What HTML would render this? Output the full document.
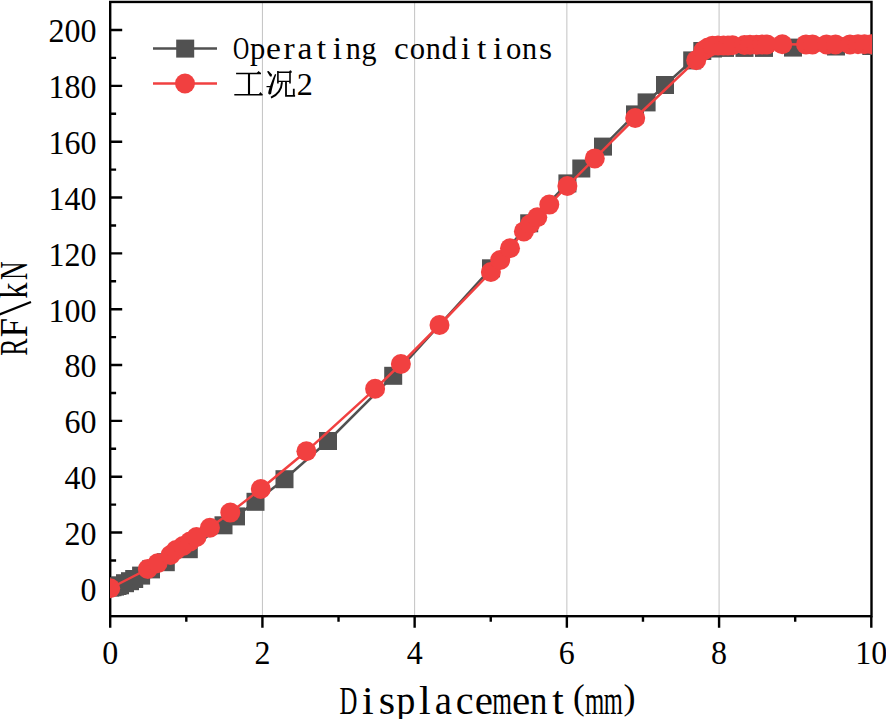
<!DOCTYPE html>
<html><head><meta charset="utf-8"><style>
html,body{margin:0;padding:0;background:#fff;width:886px;height:719px;overflow:hidden}
svg{display:block}
text{font-family:"Liberation Serif",serif;fill:#000}
</style></head><body>
<svg width="886" height="719" viewBox="0 0 886 719">
<defs><clipPath id="pc"><rect x="110" y="2" width="762" height="614.2"/></clipPath></defs>
<rect x="0" y="0" width="886" height="719" fill="#fff"/>

<line x1="262.42" y1="2" x2="262.42" y2="616" stroke="#c2c2c2" stroke-width="1"/>
<line x1="414.64" y1="2" x2="414.64" y2="616" stroke="#c2c2c2" stroke-width="1"/>
<line x1="566.86" y1="2" x2="566.86" y2="616" stroke="#c2c2c2" stroke-width="1"/>
<line x1="719.08" y1="2" x2="719.08" y2="616" stroke="#c2c2c2" stroke-width="1"/>
<rect x="110.2" y="1.95" width="761.3" height="614.25" fill="none" stroke="#000" stroke-width="2.4"/>
<path d="M110.2 588.40H122.20 M110.2 560.48H116.10 M110.2 532.56H122.20 M110.2 504.64H116.10 M110.2 476.72H122.20 M110.2 448.80H116.10 M110.2 420.88H122.20 M110.2 392.96H116.10 M110.2 365.04H122.20 M110.2 337.12H116.10 M110.2 309.20H122.20 M110.2 281.28H116.10 M110.2 253.36H122.20 M110.2 225.44H116.10 M110.2 197.52H122.20 M110.2 169.60H116.10 M110.2 141.68H122.20 M110.2 113.76H116.10 M110.2 85.84H122.20 M110.2 57.92H116.10 M110.2 30.00H122.20 M110.20 616.2V627.70 M186.31 616.2V621.80 M262.42 616.2V627.70 M338.53 616.2V621.80 M414.64 616.2V627.70 M490.75 616.2V621.80 M566.86 616.2V627.70 M642.97 616.2V621.80 M719.08 616.2V627.70 M795.19 616.2V621.80 M871.30 616.2V627.70" stroke="#000" stroke-width="2.4" fill="none"/>
<g clip-path="url(#pc)">
<polyline points="110.3,587.6 112.5,587.2 115.0,586.6 117.5,586.0 120.0,585.3 125.0,583.2 130.0,581.2 134.2,579.0 141.1,575.6 151.0,569.4 165.8,562.2 188.8,549.2 223.5,525.3 236.0,516.4 255.5,501.8 284.5,479.2 328.0,441.0 393.2,375.8 491.0,268.3 529.2,223.3 567.4,183.4 581.3,168.5 603.0,146.6 635.0,114.4 646.6,102.4 665.0,85.0 692.2,60.4 702.3,51.0 713.0,48.5 725.0,47.9 744.5,47.9 764.0,47.9 793.0,47.6 836.0,46.5 871.3,46.0" fill="none" stroke="#515151" stroke-width="2.5"/>
<rect x="101.3" y="578.6" width="18" height="18" fill="#515151"/>
<rect x="103.5" y="578.2" width="18" height="18" fill="#515151"/>
<rect x="106.0" y="577.6" width="18" height="18" fill="#515151"/>
<rect x="108.5" y="577.0" width="18" height="18" fill="#515151"/>
<rect x="111.0" y="576.3" width="18" height="18" fill="#515151"/>
<rect x="116.0" y="574.2" width="18" height="18" fill="#515151"/>
<rect x="121.0" y="572.2" width="18" height="18" fill="#515151"/>
<rect x="125.2" y="570.0" width="18" height="18" fill="#515151"/>
<rect x="132.1" y="566.6" width="18" height="18" fill="#515151"/>
<rect x="142.0" y="560.4" width="18" height="18" fill="#515151"/>
<rect x="156.8" y="553.2" width="18" height="18" fill="#515151"/>
<rect x="179.8" y="540.2" width="18" height="18" fill="#515151"/>
<rect x="214.5" y="516.3" width="18" height="18" fill="#515151"/>
<rect x="227.0" y="507.4" width="18" height="18" fill="#515151"/>
<rect x="246.5" y="492.8" width="18" height="18" fill="#515151"/>
<rect x="275.5" y="470.2" width="18" height="18" fill="#515151"/>
<rect x="319.0" y="432.0" width="18" height="18" fill="#515151"/>
<rect x="384.2" y="366.8" width="18" height="18" fill="#515151"/>
<rect x="482.0" y="259.3" width="18" height="18" fill="#515151"/>
<rect x="520.2" y="214.3" width="18" height="18" fill="#515151"/>
<rect x="558.4" y="174.4" width="18" height="18" fill="#515151"/>
<rect x="572.3" y="159.5" width="18" height="18" fill="#515151"/>
<rect x="594.0" y="137.6" width="18" height="18" fill="#515151"/>
<rect x="626.0" y="105.4" width="18" height="18" fill="#515151"/>
<rect x="637.6" y="93.4" width="18" height="18" fill="#515151"/>
<rect x="656.0" y="76.0" width="18" height="18" fill="#515151"/>
<rect x="683.2" y="51.4" width="18" height="18" fill="#515151"/>
<rect x="693.3" y="42.0" width="18" height="18" fill="#515151"/>
<rect x="704.0" y="39.5" width="18" height="18" fill="#515151"/>
<rect x="716.0" y="38.9" width="18" height="18" fill="#515151"/>
<rect x="735.5" y="38.9" width="18" height="18" fill="#515151"/>
<rect x="755.0" y="38.9" width="18" height="18" fill="#515151"/>
<rect x="784.0" y="38.6" width="18" height="18" fill="#515151"/>
<rect x="827.0" y="37.5" width="18" height="18" fill="#515151"/>
<rect x="862.3" y="37.0" width="18" height="18" fill="#515151"/>
<polyline points="110.2,588.2 147.8,569.0 157.6,563.2 170.5,555.0 176.0,550.0 183.0,546.0 190.0,541.5 196.5,537.0 209.9,527.7 230.3,512.6 260.8,489.0 306.4,451.3 375.1,388.8 400.9,364.0 439.5,325.0 490.9,272.0 500.2,260.0 510.0,248.3 523.9,231.4 530.0,224.2 537.3,217.3 549.3,204.6 567.4,186.0 594.8,158.4 635.2,118.0 696.2,60.2 703.5,50.5 708.0,47.5 712.5,45.8 718.0,45.4 723.5,45.4 728.0,45.4 732.5,45.3 744.5,45.0 750.0,44.8 756.5,44.7 762.0,44.6 767.0,44.5 782.3,44.3 806.0,44.4 812.5,44.4 826.5,44.4 835.5,44.4 850.0,44.4 858.0,44.3 864.5,44.3 871.3,44.3" fill="none" stroke="#F14040" stroke-width="2.5"/>
<circle cx="110.2" cy="588.2" r="10" fill="#F14040"/>
<circle cx="147.8" cy="569.0" r="10" fill="#F14040"/>
<circle cx="157.6" cy="563.2" r="10" fill="#F14040"/>
<circle cx="170.5" cy="555.0" r="10" fill="#F14040"/>
<circle cx="176.0" cy="550.0" r="10" fill="#F14040"/>
<circle cx="183.0" cy="546.0" r="10" fill="#F14040"/>
<circle cx="190.0" cy="541.5" r="10" fill="#F14040"/>
<circle cx="196.5" cy="537.0" r="10" fill="#F14040"/>
<circle cx="209.9" cy="527.7" r="10" fill="#F14040"/>
<circle cx="230.3" cy="512.6" r="10" fill="#F14040"/>
<circle cx="260.8" cy="489.0" r="10" fill="#F14040"/>
<circle cx="306.4" cy="451.3" r="10" fill="#F14040"/>
<circle cx="375.1" cy="388.8" r="10" fill="#F14040"/>
<circle cx="400.9" cy="364.0" r="10" fill="#F14040"/>
<circle cx="439.5" cy="325.0" r="10" fill="#F14040"/>
<circle cx="490.9" cy="272.0" r="10" fill="#F14040"/>
<circle cx="500.2" cy="260.0" r="10" fill="#F14040"/>
<circle cx="510.0" cy="248.3" r="10" fill="#F14040"/>
<circle cx="523.9" cy="231.4" r="10" fill="#F14040"/>
<circle cx="530.0" cy="224.2" r="10" fill="#F14040"/>
<circle cx="537.3" cy="217.3" r="10" fill="#F14040"/>
<circle cx="549.3" cy="204.6" r="10" fill="#F14040"/>
<circle cx="567.4" cy="186.0" r="10" fill="#F14040"/>
<circle cx="594.8" cy="158.4" r="10" fill="#F14040"/>
<circle cx="635.2" cy="118.0" r="10" fill="#F14040"/>
<circle cx="696.2" cy="60.2" r="10" fill="#F14040"/>
<circle cx="703.5" cy="50.5" r="10" fill="#F14040"/>
<circle cx="708.0" cy="47.5" r="10" fill="#F14040"/>
<circle cx="712.5" cy="45.8" r="10" fill="#F14040"/>
<circle cx="718.0" cy="45.4" r="10" fill="#F14040"/>
<circle cx="723.5" cy="45.4" r="10" fill="#F14040"/>
<circle cx="728.0" cy="45.4" r="10" fill="#F14040"/>
<circle cx="732.5" cy="45.3" r="10" fill="#F14040"/>
<circle cx="744.5" cy="45.0" r="10" fill="#F14040"/>
<circle cx="750.0" cy="44.8" r="10" fill="#F14040"/>
<circle cx="756.5" cy="44.7" r="10" fill="#F14040"/>
<circle cx="762.0" cy="44.6" r="10" fill="#F14040"/>
<circle cx="767.0" cy="44.5" r="10" fill="#F14040"/>
<circle cx="782.3" cy="44.3" r="10" fill="#F14040"/>
<circle cx="806.0" cy="44.4" r="10" fill="#F14040"/>
<circle cx="812.5" cy="44.4" r="10" fill="#F14040"/>
<circle cx="826.5" cy="44.4" r="10" fill="#F14040"/>
<circle cx="835.5" cy="44.4" r="10" fill="#F14040"/>
<circle cx="850.0" cy="44.4" r="10" fill="#F14040"/>
<circle cx="858.0" cy="44.3" r="10" fill="#F14040"/>
<circle cx="864.5" cy="44.3" r="10" fill="#F14040"/>
<circle cx="871.3" cy="44.3" r="10" fill="#F14040"/>
</g>
<text transform="translate(96.6,600.70) scale(0.955,1)" font-size="33.5" text-anchor="end">0</text>
<text transform="translate(96.6,544.86) scale(0.955,1)" font-size="33.5" text-anchor="end">20</text>
<text transform="translate(96.6,489.02) scale(0.955,1)" font-size="33.5" text-anchor="end">40</text>
<text transform="translate(96.6,433.18) scale(0.955,1)" font-size="33.5" text-anchor="end">60</text>
<text transform="translate(96.6,377.34) scale(0.955,1)" font-size="33.5" text-anchor="end">80</text>
<text transform="translate(96.6,321.50) scale(0.955,1)" font-size="33.5" text-anchor="end">100</text>
<text transform="translate(96.6,265.66) scale(0.955,1)" font-size="33.5" text-anchor="end">120</text>
<text transform="translate(96.6,209.82) scale(0.955,1)" font-size="33.5" text-anchor="end">140</text>
<text transform="translate(96.6,153.98) scale(0.955,1)" font-size="33.5" text-anchor="end">160</text>
<text transform="translate(96.6,98.14) scale(0.955,1)" font-size="33.5" text-anchor="end">180</text>
<text transform="translate(96.6,42.30) scale(0.955,1)" font-size="33.5" text-anchor="end">200</text>
<text transform="translate(110.20,663.7) scale(0.955,1)" font-size="33.5" text-anchor="middle">0</text>
<text transform="translate(262.42,663.7) scale(0.955,1)" font-size="33.5" text-anchor="middle">2</text>
<text transform="translate(414.64,663.7) scale(0.955,1)" font-size="33.5" text-anchor="middle">4</text>
<text transform="translate(566.86,663.7) scale(0.955,1)" font-size="33.5" text-anchor="middle">6</text>
<text transform="translate(719.08,663.7) scale(0.955,1)" font-size="33.5" text-anchor="middle">8</text>
<text transform="translate(871.30,663.7) scale(0.955,1)" font-size="33.5" text-anchor="middle">10</text>
<text font-size="40" transform="translate(348.40,714.00) scale(0.619,1)" x="-14.20" >D</text>
<text font-size="40" transform="translate(367.85,714.00) scale(1.050,1)" x="-5.60" >i</text>
<text font-size="40" transform="translate(387.15,714.00) scale(1.050,1)" x="-8.00" >s</text>
<text font-size="40" transform="translate(405.40,714.00) scale(0.957,1)" x="-9.60" >p</text>
<text font-size="40" transform="translate(424.75,714.00) scale(1.050,1)" x="-5.60" >l</text>
<text font-size="40" transform="translate(443.85,714.00) scale(0.970,1)" x="-9.40" >a</text>
<text font-size="40" transform="translate(464.70,714.00) scale(1.000,1)" x="-9.00" >c</text>
<text font-size="40" transform="translate(483.70,714.00) scale(1.026,1)" x="-8.80" >e</text>
<text font-size="40" transform="translate(502.30,714.00) scale(0.633,1)" x="-15.80" >m</text>
<text font-size="40" transform="translate(520.90,714.00) scale(1.026,1)" x="-8.80" >e</text>
<text font-size="40" transform="translate(538.85,714.00) scale(0.867,1)" x="-10.20" >n</text>
<text font-size="40" transform="translate(557.95,714.00) scale(1.027,1)" x="-5.60" >t</text>
<text font-size="36" transform="translate(579.25,709.00) scale(0.977,1)" x="-6.30" >(</text>
<text font-size="40" transform="translate(594.70,714.00) scale(0.620,1)" x="-15.80" >m</text>
<text font-size="40" transform="translate(613.40,714.00) scale(0.613,1)" x="-15.80" >m</text>
<text font-size="36" transform="translate(629.40,709.00) scale(1.004,1)" x="-5.76" >)</text>
<text font-size="39" transform="translate(27.00,346.80) rotate(-90) scale(0.663,1)" x="-13.46" >R</text>
<text font-size="39" transform="translate(27.00,328.00) rotate(-90) scale(0.882,1)" x="-10.53" >F</text>
<text font-size="39" transform="translate(27.00,290.50) rotate(-90) scale(0.827,1)" x="-9.95" >k</text>
<text font-size="39" transform="translate(27.00,270.85) rotate(-90) scale(0.660,1)" x="-14.04" >N</text>
<line x1="-4" y1="315.9" x2="31" y2="301.9" stroke="#000" stroke-width="2.2"/>
<line x1="153" y1="48.5" x2="217" y2="48.5" stroke="#515151" stroke-width="2.5"/>
<rect x="176.2" y="39.6" width="18" height="18" fill="#515151"/>
<line x1="153" y1="83.5" x2="217" y2="83.5" stroke="#F14040" stroke-width="2.5"/>
<circle cx="185" cy="83.5" r="10" fill="#F14040"/>
<text font-size="32" transform="translate(241.30,59.40) scale(0.702,1)" x="-11.68" >O</text>
<text font-size="32" transform="translate(257.32,59.40) scale(0.958,1)" x="-7.68" >p</text>
<text font-size="32" transform="translate(273.34,59.40) scale(1.050,1)" x="-7.04" >e</text>
<text font-size="32" transform="translate(289.36,59.40) scale(1.050,1)" x="-5.60" >r</text>
<text font-size="32" transform="translate(305.38,59.40) scale(1.050,1)" x="-7.52" >a</text>
<text font-size="32" transform="translate(321.40,59.40) scale(1.050,1)" x="-4.48" >t</text>
<text font-size="32" transform="translate(337.42,59.40) scale(1.050,1)" x="-4.48" >i</text>
<text font-size="32" transform="translate(353.44,59.40) scale(0.944,1)" x="-8.16" >n</text>
<text font-size="32" transform="translate(369.46,59.40) scale(0.938,1)" x="-8.48" >g</text>
<text font-size="32" transform="translate(401.50,59.40) scale(1.034,1)" x="-7.20" >c</text>
<text font-size="32" transform="translate(417.52,59.40) scale(0.959,1)" x="-8.00" >o</text>
<text font-size="32" transform="translate(433.54,59.40) scale(0.944,1)" x="-8.16" >n</text>
<text font-size="32" transform="translate(449.56,59.40) scale(0.951,1)" x="-8.32" >d</text>
<text font-size="32" transform="translate(465.58,59.40) scale(1.050,1)" x="-4.48" >i</text>
<text font-size="32" transform="translate(481.60,59.40) scale(1.050,1)" x="-4.48" >t</text>
<text font-size="32" transform="translate(497.62,59.40) scale(1.050,1)" x="-4.48" >i</text>
<text font-size="32" transform="translate(513.64,59.40) scale(0.959,1)" x="-8.00" >o</text>
<text font-size="32" transform="translate(529.66,59.40) scale(0.944,1)" x="-8.16" >n</text>
<text font-size="32" transform="translate(545.68,59.40) scale(1.050,1)" x="-6.40" >s</text>
<g fill="none" stroke="#000" stroke-linecap="butt"><path d="M236.1 73.5H261 M234.3 94.7H262.6" stroke-width="1.4"/><path d="M249 73.5V94.7" stroke-width="2.1"/><path d="M266.5 86.6L270.5 86.6" stroke-width="1.2"/><path d="M277.9 71V83.6 M290 71.2V83.6" stroke-width="1.6"/><path d="M277.9 72.2H291.3 M277.9 81.4H290" stroke-width="1.4"/><path d="M282 82.1C281.5 90 277 95 271 97.7" stroke-width="1.9"/><path d="M286 82.1V95.9H295.1 M293.8 88.8V95.9" stroke-width="1.8"/></g>
<path d="M256.5 73.2L258.6 71L261 73.2Z M258.5 94.4L260.5 92L262.6 94.4Z M267 71.4L268.6 70.9L272 74.6L271.6 76.4L270 76.6Z M268.2 93.3C268.6 90 270.5 84 275 74L276.2 74.5C273.5 83 271.8 89.5 271.2 93.5C270.6 95 268.8 95 268.2 93.3Z M289.2 71L290.9 70.3L292 72.2L290.9 72.6Z" fill="#000"/>
<text font-size="32" transform="translate(304.70,94.50) scale(1.006,1)" x="-7.84" >2</text>
</svg>
</body></html>
